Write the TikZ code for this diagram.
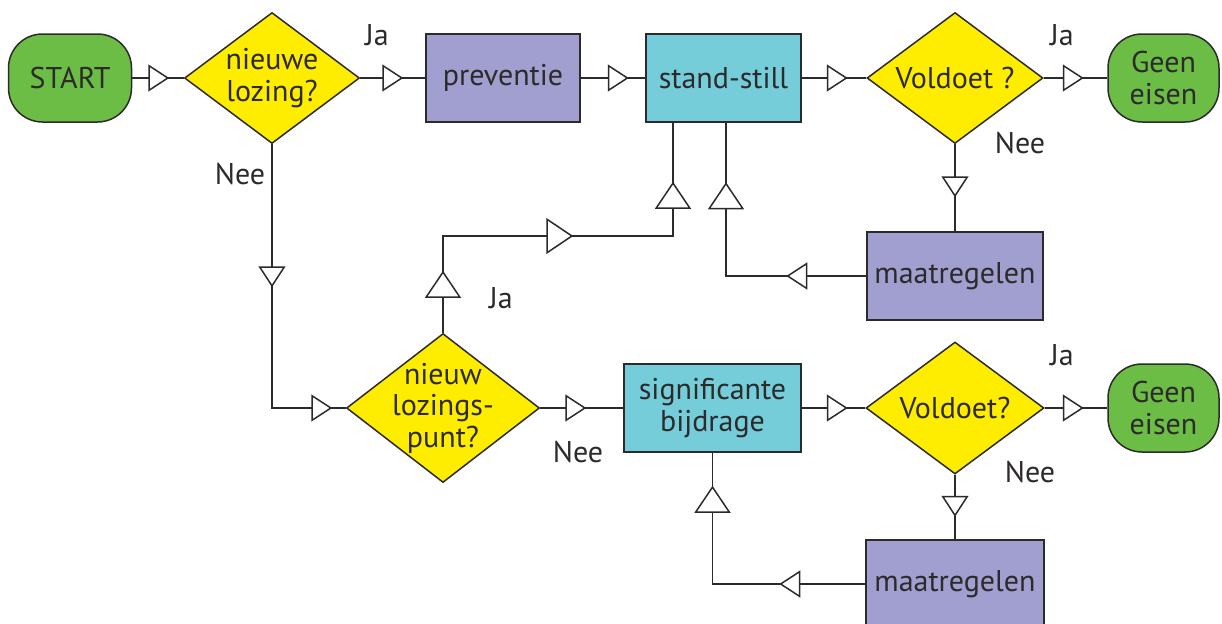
\documentclass[tikz,border=0pt]{standalone}
\usepackage{fontspec}
\setmainfont{PT Sans}
\usetikzlibrary{shapes.geometric,arrows.meta,decorations.markings}

\definecolor{groen}{RGB}{107,189,69}
\definecolor{geel}{RGB}{255,237,0}
\definecolor{paars}{RGB}{160,159,207}
\definecolor{blauw}{RGB}{116,205,217}
\definecolor{lijn}{RGB}{45,42,43}

\tikzset{
  tri/.style={postaction={decorate,decoration={markings,
    mark=at position #1 with {\arrow{Triangle[length=10.5pt,width=13.5pt,fill=white]}}}}},
  bigtri/.style={postaction={decorate,decoration={markings,
    mark=at position #1 with {\arrow{Triangle[length=13.5pt,width=18pt,fill=white]}}}}},
  eind/.style={draw, fill=groen, rectangle, rounded corners=17pt, minimum height=44pt, align=center},
  blok/.style={draw, rectangle, minimum height=44pt, align=center},
  keuze/.style={draw, fill=geel, diamond, inner sep=-10pt, align=center}
}

\begin{document}
\begin{tikzpicture}[x=0.5pt,y=-0.5pt,color=lijn,line width=0.75pt,font=\fontsize{15}{15.8}\selectfont]
\useasboundingbox (0,0) rectangle (1222,623);

\node[eind, minimum width=61.5pt] (start) at (70,78) {START};
\node[keuze, minimum width=87.5pt, minimum height=65.5pt] (lozing) at (272,78) {nieuwe\\lozing?};
\node[blok, fill=paars, minimum width=77pt] (preventie) at (503,78) {preventie};
\node[blok, fill=blauw, minimum width=77.5pt] (still) at (723.5,78) {stand-still};
\node[keuze, minimum width=88pt, minimum height=65.5pt] (voldoet1) at (955,78) {Voldoet ?};
\node[eind, minimum width=55.5pt] (geen1) at (1163.5,78) {Geen\\eisen};
\node[blok, fill=paars, minimum width=88pt] (maatregel1) at (955,276) {maatregelen};

\node[keuze, minimum width=96.5pt, minimum height=74.5pt] (punt) at (443,408) {nieuw\\lozings-\\punt?};
\node[blok, fill=blauw, minimum width=88.5pt] (bijdrage) at (712.5,408) {significante\\bijdrage};
\node[keuze, minimum width=89pt, minimum height=66pt] (voldoet2) at (955,408) {Voldoet?};
\node[eind, minimum width=55.5pt] (geen2) at (1163.5,408) {Geen\\eisen};
\node[blok, fill=paars, minimum width=89pt] (maatregel2) at (955,584) {maatregelen};

\coordinate (ja) at (673,236);
\coordinate (terug) at (726,122);

\draw[tri=18.5pt] (start.east) -- (lozing.west);
\draw[tri=21.5pt] (lozing.east) -- (preventie.west);
\draw[tri=24pt] (preventie.east) -- (still.west);
\draw[tri=23pt] (still.east) -- (voldoet1.west);
\draw[tri=20pt] (voldoet1.east) -- (geen1.west);
\draw[tri=26.5pt] (voldoet1.south) -- (maatregel1.north);
\draw[tri=40pt, bigtri=117pt] (maatregel1.west) -| (terug);

\draw[tri=71.5pt, tri=162pt] (lozing.south) |- (punt.west);
\draw[bigtri=31pt, bigtri=113.5pt, bigtri=190.5pt] (punt.north) |- (ja) -- (ja |- still.south);

\draw[tri=23pt] (punt.east) -- (bijdrage.west);
\draw[tri=23pt] (bijdrage.east) -- (voldoet2.west);
\draw[tri=19.5pt] (voldoet2.east) -- (geen2.west);
\draw[tri=21pt] (voldoet2.south) -- (maatregel2.north);
\draw[tri=43pt, bigtri=125.5pt] (maatregel2.west) -| (bijdrage.south);

\node (ja1) at (377,35) {Ja};
\node (nee1) at (240,174) {Nee};
\node (ja2) at (1062,35) {Ja};
\node (nee2) at (1020,143) {Nee};
\node (ja3) at (501,298) {Ja};
\node (nee3) at (578,452) {Nee};
\node (ja4) at (1062,355) {Ja};
\node (nee4) at (1030,472) {Nee};

\end{tikzpicture}
\end{document}
